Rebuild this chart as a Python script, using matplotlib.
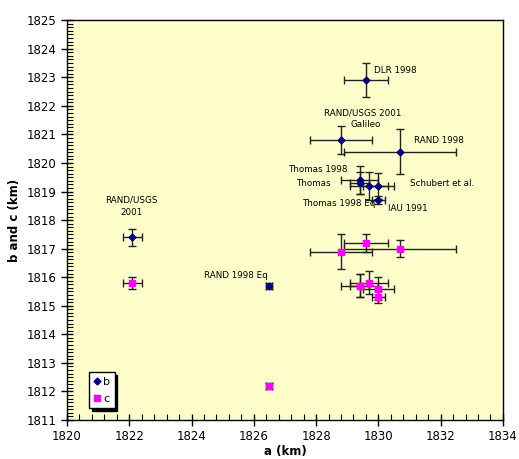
import matplotlib.pyplot as plt
from matplotlib.lines import Line2D
from matplotlib.ticker import MultipleLocator

# axis a, b, c estimates with uncertainties (km)
names = ["RAND/USGS\n2001", "RAND 1998 Eq", "DLR 1998", "Galileo", "RAND 1998",
         "Thomas 1998", "Thomas", "Schubert et al.", "Thomas 1998 Eq", "IAU 1991"]
a_val = [1822.1, 1826.5, 1829.6, 1828.8, 1830.7, 1829.4, 1829.4, 1829.7, 1830.0, 1830.0]
a_err = [0.3, 0.1, 0.7, 1.0, 1.8, 0.6, 0.3, 0.6, 0.5, 0.2]
b_val = [1817.4, 1815.7, 1822.9, 1820.8, 1820.4, 1819.4, 1819.3, 1819.2, 1819.2, 1818.7]
b_err = [0.3, 0.1, 0.6, 0.5, 0.8, 0.5, 0.4, 0.5, 0.45, 0.15]
c_val = [1815.8, 1812.2, 1817.2, 1816.9, 1817.0, 1815.7, 1815.7, 1815.8, 1815.6, 1815.3]
c_err = [0.2, 0.1, 0.3, 0.6, 0.3, 0.4, 0.4, 0.4, 0.4, 0.2]

# label anchor positions in data coordinates
label_x = [1822.06, 1824.41, 1829.85, 1829.1, 1831.13, 1829.0, 1828.46, 1831.03, 1827.55, 1830.31]
label_y = [1818.47, 1816.07, 1823.25, 1821.34, 1820.77, 1819.78, 1819.27, 1819.27, 1818.59, 1818.39]
label_ha = ["center", "left", "left", "left", "left", "right", "right", "left", "left", "left"]

fig = plt.figure(figsize=(5.19, 4.59), dpi=100)
ax = fig.add_axes([0.129, 0.085, 0.840, 0.871])
ax.set_facecolor("#FFFFCC")

err_kw = dict(fmt="none", ecolor="#222222", elinewidth=1, capsize=3, capthick=1, zorder=2)
ax.errorbar(a_val, c_val, xerr=a_err, yerr=c_err, **err_kw)
ax.errorbar(a_val, b_val, xerr=a_err, yerr=b_err, **err_kw)
ax.plot(a_val, c_val, linestyle="none", marker="s", markersize=5, color="#FF00FF", zorder=3)
ax.plot(a_val, b_val, linestyle="none", marker="D", markersize=3.5, color="#000080", zorder=4)

for name, x, y, ha in zip(names, label_x, label_y, label_ha):
    ax.text(x, y, name, fontsize=6.3, ha=ha, va="center", linespacing=1.5)
ax.text(1829.5, 1821.76, "RAND/USGS 2001", fontsize=6.3, ha="center", va="center")

ax.set_xlim(1820, 1834)
ax.set_ylim(1811, 1825)
ax.xaxis.set_major_locator(MultipleLocator(2))
ax.xaxis.set_minor_locator(MultipleLocator(0.4))
ax.yaxis.set_major_locator(MultipleLocator(1))
ax.yaxis.set_minor_locator(MultipleLocator(0.125))
ax.tick_params(which="major", direction="inout", length=8, width=1, labelsize=8.5)
ax.tick_params(which="minor", direction="in", length=4, width=0.8)
for s in ax.spines.values():
    s.set_linewidth(1)

ax.set_xlabel("a (km)", fontsize=8.5, fontweight="bold", labelpad=1)
ax.set_ylabel("b and c (km)", fontsize=8.5, fontweight="bold", labelpad=4)

handles = [Line2D([], [], linestyle="none", marker="D", markersize=3.5, color="#000080"),
           Line2D([], [], linestyle="none", marker="s", markersize=5, color="#FF00FF")]
ax.legend(handles, ["b", "c"], loc="lower left", bbox_to_anchor=(0.05, 0.03),
          fontsize=8, handlelength=0.6, handletextpad=0.3, borderpad=0.4,
          labelspacing=0.6, fancybox=False, shadow={"color": "black", "alpha": 1},
          framealpha=1, edgecolor="black", borderaxespad=0)

fig.savefig("out.png", dpi=100)
